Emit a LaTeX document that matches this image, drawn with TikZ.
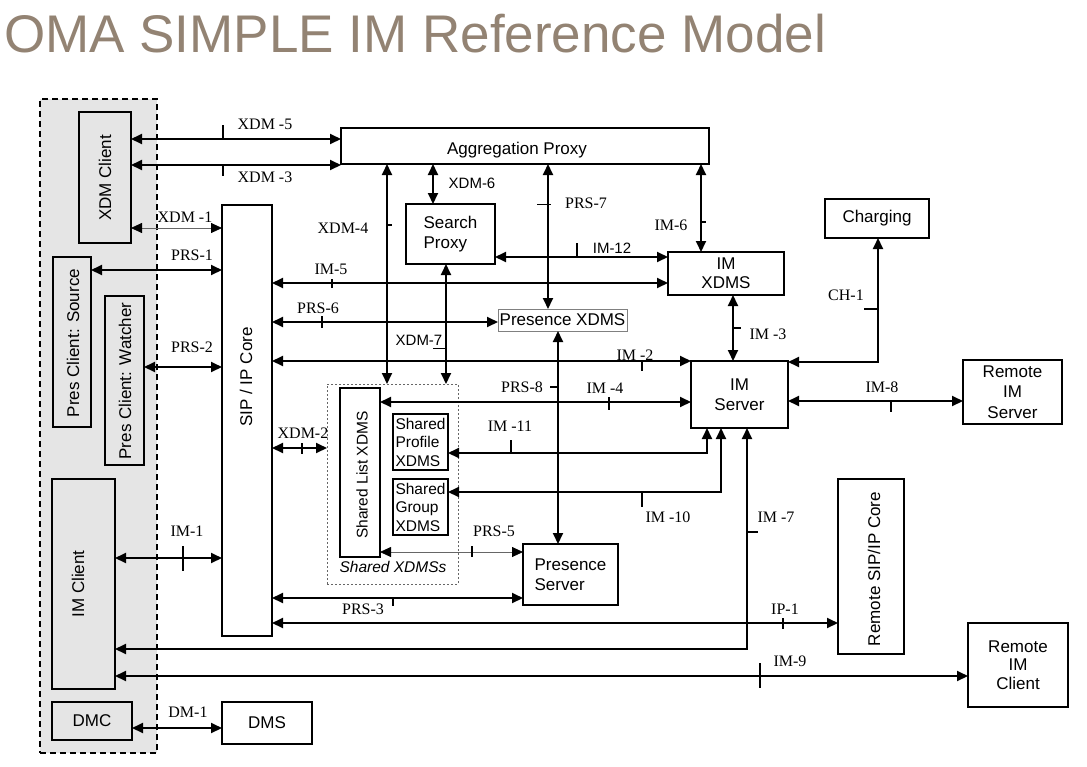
\documentclass[tikz,border=0pt]{standalone}
\usepackage{fontspec}
\setmainfont{Liberation Serif}
\setsansfont{Liberation Sans}
\usetikzlibrary{arrows.meta}
\definecolor{titlec}{RGB}{147,131,115}
\definecolor{cgray}{RGB}{229,229,229}
\newcommand\bnode[6][]{\node[#1, minimum width={#5-#3}, minimum height={#6-#4}] (#2) at ({(#3+#5)/2},{(#4+#6)/2})}
\begin{document}
\begin{tikzpicture}[x=1pt,y=-1pt,
  box/.style={draw, line width=1.4pt, inner sep=0pt, outer sep=0pt, fill=white,
    font=\sffamily\fontsize{17}{20.5}\selectfont, align=center},
  gbox/.style={box, fill=cgray},
  small/.style={font=\sffamily\fontsize{15.5}{18.5}\selectfont},
  rtxt/.style={rotate=90, inner sep=0pt, font=\sffamily\fontsize{17}{20}\selectfont},
  con/.style={line width=1.9pt, {Triangle[length=11pt,width=10pt]}-{Triangle[length=11pt,width=10pt]}},
  tcon/.style={line width=0.8pt, draw=black!60, {Triangle[length=11pt,width=10pt,fill=black,color=black]}-{Triangle[length=11pt,width=10pt,fill=black,color=black]}},
  tk/.style={line width=1.9pt},
  lbl/.style={inner sep=0pt, font=\rmfamily\fontsize{16}{18}\selectfont},
  slbl/.style={inner sep=0pt, font=\sffamily\fontsize{15}{18}\selectfont}]
\useasboundingbox (0,0) rectangle (1087,766);
% title
\node[anchor=base west, inner sep=0pt, text=titlec, font=\sffamily\fontsize{53}{60}\selectfont] (title) at (4,52) {OMA SIMPLE IM Reference Model};
% client container
\bnode[draw, fill=cgray, line width=1.3pt, dash pattern=on 6pt off 4pt, inner sep=0pt, outer sep=0pt]{clients}{40}{99}{157}{753} {};
\bnode[gbox]{xdmc}{79}{112}{131}{243} {};
\node[rtxt] (xdmcl) at (105,178) {XDM Client};
\bnode[gbox]{psrc}{53}{257}{91}{427} {};
\node[rtxt] (psrcl) at (73,343) {Pres Client: Source};
\bnode[gbox]{pwat}{105}{296}{144}{465} {};
\node[rtxt] (pwatl) at (125,381) {Pres Client: Watcher};
\bnode[gbox]{imc}{52}{479}{115}{689} {};
\node[rtxt] (imcl) at (78,584) {IM Client};
\bnode[gbox]{dmc}{52}{702}{132}{740} {DMC};
% SIP core and DMS
\bnode[box]{sip}{222}{205}{272}{636} {};
\node[rtxt] (sipl) at (246,377) {SIP / IP Core};
\bnode[box]{dms}{222}{702}{312}{744} {DMS};
% right side boxes
\bnode[box]{agg}{341}{128}{709}{164} {};
\node[inner sep=0pt, font=\sffamily\fontsize{17}{20}\selectfont] (aggl) at (517,150) {Aggregation Proxy};
\bnode[box, align=left]{search}{406}{204}{495}{264} {Search\\Proxy};
\bnode[box]{charging}{825}{199}{929}{238} {Charging};
\bnode[box, font=\sffamily\fontsize{17}{19}\selectfont]{imxdms}{668}{252}{784}{295} {IM\\XDMS};
\bnode[box, draw=black!50, line width=0.9pt]{presxdms}{498}{309}{627}{331} {Presence XDMS};
\bnode[box]{imserver}{691}{361}{788}{428} {IM\\Server};
\bnode[box]{rimserver}{963}{360}{1062}{424} {Remote\\IM\\Server};
\bnode[draw=black!60, line width=0.8pt, dash pattern=on 2pt off 2pt, inner sep=0pt, outer sep=0pt]{shared}{327}{384}{458}{584} {};
\bnode[box]{slist}{340}{388}{380}{557} {};
\node[rtxt, font=\sffamily\fontsize{15.5}{18}\selectfont] (slistl) at (362,475) {Shared List XDMS};
\bnode[box, small, align=left]{sprof}{393}{414}{448}{470} {Shared\\Profile\\XDMS};
\bnode[box, small, align=left]{sgroup}{393}{479}{448}{535} {Shared\\Group\\XDMS};
\node[inner sep=0pt, font=\sffamily\itshape\fontsize{15.5}{18}\selectfont] (sharedl) at (393,567) {Shared XDMSs};
\bnode[box, align=left]{presserver}{523}{544}{618}{605} {Presence\\Server};
\bnode[box]{rsip}{838}{479}{904}{654} {};
\node[rtxt] (rsipl) at (874,569) {Remote SIP/IP Core};
\bnode[box, font=\sffamily\fontsize{17}{18.5}\selectfont]{rimclient}{968}{623}{1068}{707} {Remote\\IM\\Client};
% connectors
\draw[con] (xdmc.east |- 0,139) -- (agg.west |- 0,139);
\draw[con] (xdmc.east |- 0,165) -- (agg.west |- 0,165);
\draw[tcon] (xdmc.east |- 0,228) -- (sip.west |- 0,228);
\draw[con] (psrc.east |- 0,270) -- (sip.west |- 0,270);
\draw[con] (pwat.east |- 0,367) -- (sip.west |- 0,367);
\draw[con] (imc.east |- 0,558) -- (sip.west |- 0,558);
\draw[con] (dmc.east |- 0,728) -- (dms.west |- 0,728);
\draw[con] (sip.east |- 0,283) -- (imxdms.west |- 0,283);
\draw[con] (sip.east |- 0,322) -- (presxdms.west |- 0,322);
\draw[con] (sip.east |- 0,361) -- (imserver.north west);
\draw[con] (sip.east |- 0,448) -- (shared.west |- 0,448);
\draw[con] (sip.east |- 0,598) -- (presserver.west |- 0,598);
\draw[con] (sip.east |- 0,623) -- (rsip.west |- 0,623);
\draw[con] (imc.east |- 0,649) -| (imserver.south -| 747,0);
\draw[con] (imc.east |- 0,676) -- (rimclient.west |- 0,676);
\draw[con] (agg.south -| 387,0) -- (shared.north -| 387,0);
\draw[con] (agg.south -| 433,0) -- (search.north -| 433,0);
\draw[con] (search.south -| 446,0) -- (shared.north -| 446,0);
\draw[con] (agg.south -| 548,0) -- (presxdms.north -| 548,0);
\draw[con] (agg.south -| 701,0) -- (imxdms.north -| 701,0);
\draw[con] (search.east |- 0,257) -- (imxdms.west |- 0,257);
\draw[con] (imxdms.south -| 733,0) -- (imserver.north -| 733,0);
\draw[con] (imserver.east |- 0,362) -| (charging.south -| 878,0);
\draw[con] (imserver.east |- 0,401) -- (rimserver.west |- 0,401);
\draw[con] (presxdms.south -| 558,0) -- (presserver.north -| 558,0);
\draw[con] (slist.east |- 0,402) -- (imserver.west |- 0,402);
\draw[con] (sprof.east |- 0,453) -| (imserver.south -| 707,0);
\draw[con] (sgroup.east |- 0,492) -| (imserver.south -| 721,0);
\draw[tcon] (slist.east |- 0,552) -- (presserver.west |- 0,552);
% ticks
\draw[tk] (223,125) -- (223,139);
\draw[tk] (223,165) -- (223,176);
\draw[tk] (183,546) -- (183,571);
\draw[tk] (332,279) -- (332,288);
\draw[tk] (322,316) -- (322,328);
\draw[tk] (642,361) -- (642,371);
\draw[tk] (302,443) -- (302,454);
\draw[tk] (393,598) -- (393,606);
\draw[tk] (783,618) -- (783,629);
\draw[tk] (760,663) -- (760,688);
\draw[tk] (387,225) -- (392,225);
\draw[line width=1pt] (433,348) -- (446,348);
\draw[line width=1pt] (537,204) -- (551,204);
\draw[tk] (701,222) -- (706,222);
\draw[line width=1.2pt] (577,243) -- (577,257);
\draw[tk] (733,328) -- (741,328);
\draw[line width=1.2pt] (864,309) -- (878,309);
\draw[tk] (891,401) -- (891,412);
\draw[tk] (550,387) -- (558,387);
\draw[tk] (609,397) -- (609,410);
\draw[tk] (511,440) -- (511,453);
\draw[tk] (642,492) -- (642,507);
\draw[tk] (472,546) -- (472,557);
\draw[tk] (747,532) -- (758,532);
% labels
\node[lbl] (lx5) at (265,124) {XDM -5};
\node[lbl] (lx3) at (265,177) {XDM -3};
\node[lbl] (lx1) at (185,217) {XDM -1};
\node[lbl] (lp1) at (192,255) {PRS-1};
\node[lbl] (lp2) at (192,347) {PRS-2};
\node[lbl] (li1) at (187,531) {IM-1};
\node[lbl] (ld1) at (188,712) {DM-1};
\node[lbl] (li5) at (331,269) {IM-5};
\node[lbl] (lp6) at (318,308) {PRS-6};
\node[lbl] (li2) at (635,355) {IM -2};
\node[lbl] (lx2) at (303,433) {XDM-2};
\node[lbl] (lp3) at (363,609) {PRS-3};
\node[lbl] (lip1) at (785,609) {IP-1};
\node[lbl] (li7) at (776,517) {IM -7};
\node[lbl] (li9) at (790,661) {IM-9};
\node[lbl] (lx4) at (343,228) {XDM-4};
\node[slbl] (lx6) at (472,183) {XDM-6};
\node[slbl] (lx7) at (419,340) {XDM-7};
\node[lbl] (lp7) at (586,203) {PRS-7};
\node[lbl] (li6) at (671,225) {IM-6};
\node[slbl] (li12) at (612,248) {IM-12};
\node[lbl] (li3) at (768,334) {IM -3};
\node[lbl] (lc1) at (846,295) {CH-1};
\node[lbl] (li8) at (882,387) {IM-8};
\node[lbl] (lp8) at (522,387) {PRS-8};
\node[lbl] (li4) at (605,388) {IM -4};
\node[lbl] (li11) at (510,426) {IM -11};
\node[lbl] (li10) at (668,517) {IM -10};
\node[lbl] (lp5) at (494,531) {PRS-5};
\end{tikzpicture}
\end{document}
